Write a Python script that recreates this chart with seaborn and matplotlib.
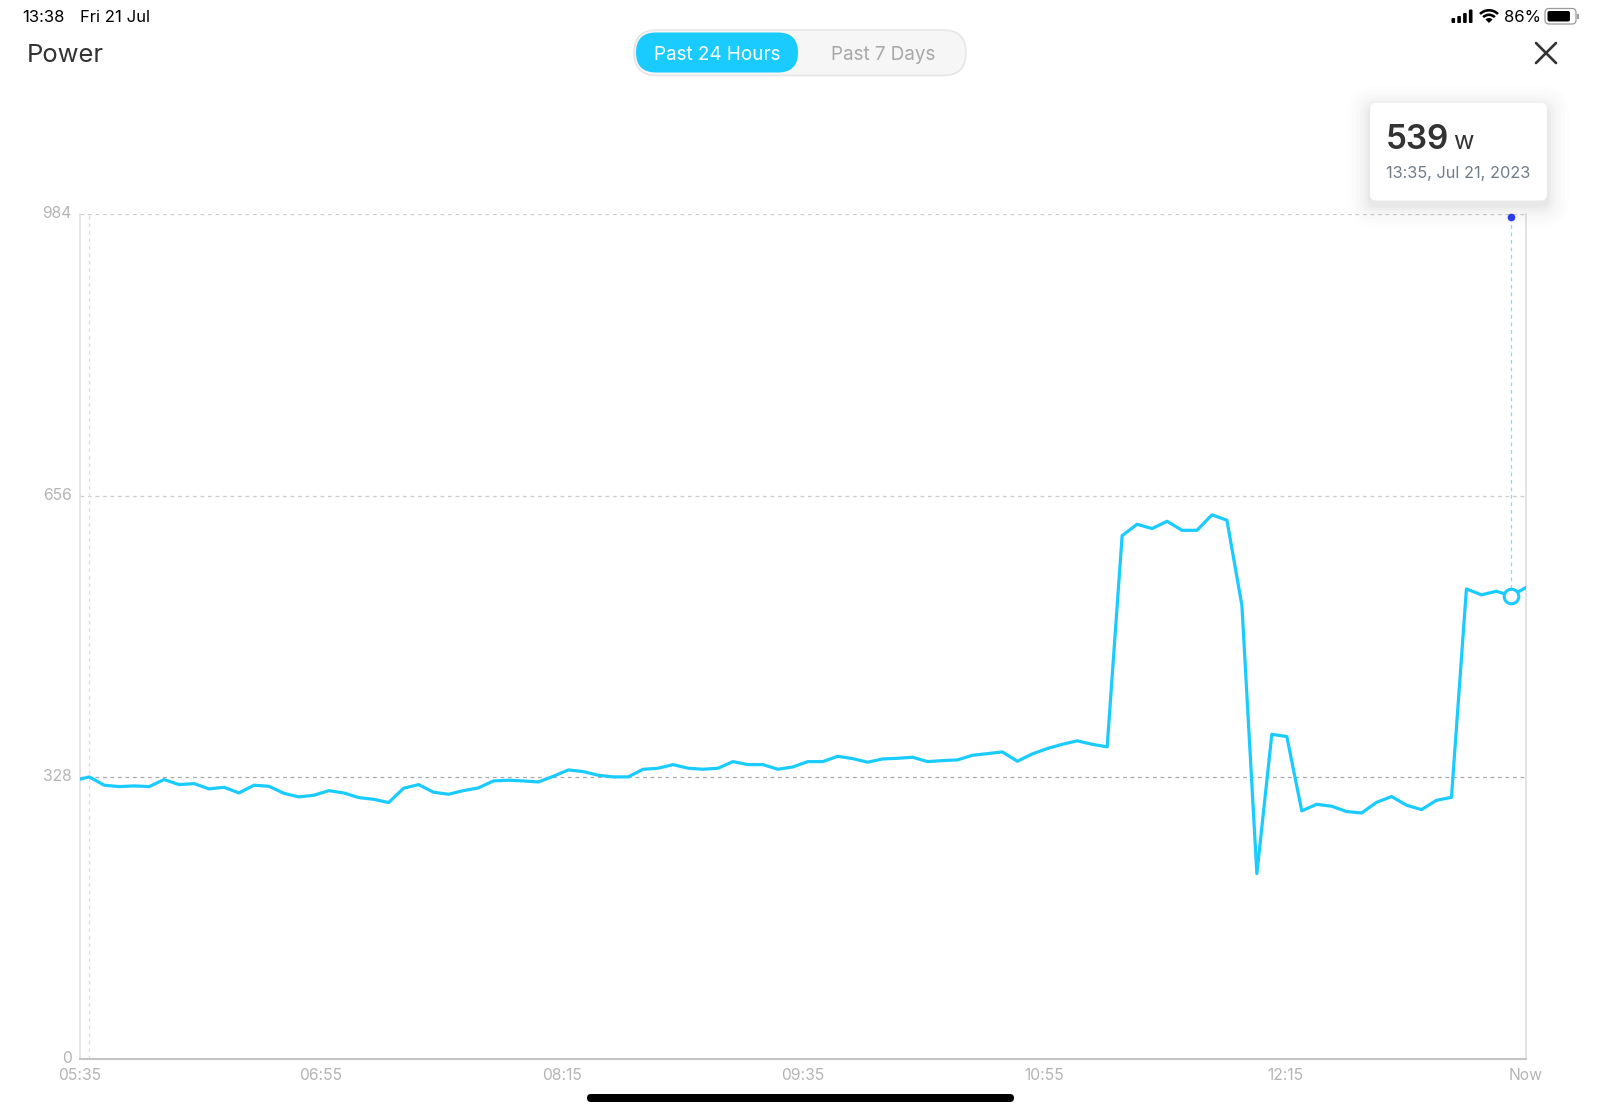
import numpy as np
import pandas as pd
import matplotlib.pyplot as plt
import seaborn as sns
from matplotlib.patches import FancyBboxPatch, Rectangle, Wedge
from matplotlib.transforms import ScaledTranslation

# readings every 5 minutes, first one just before the left edge
power_w = [
    323.9, 328.2, 318.5, 316.9, 317.7, 316.9, 325.1, 319.2, 320.4, 314.2,
    316.1, 309.5, 318.5, 317.3, 309.1, 304.9, 306.8, 312.2, 309.5, 304.1,
    302.1, 298.3, 315.0, 319.2, 310.3, 308.0, 312.2, 315.4, 323.5, 324.3,
    323.5, 322.3, 328.9, 336.3, 334.4, 330.1, 328.2, 328.2, 337.1, 338.3,
    342.5, 338.3, 337.1, 338.3, 346.0, 342.5, 342.5, 337.1, 339.8, 346.0,
    346.0, 352.2, 349.5, 345.3, 349.1, 349.9, 351.1, 346.0, 347.2, 348.0,
    353.4, 355.3, 357.3, 346.4, 355.0, 361.2, 366.2, 370.2, 366.2, 363.2,
    609.3, 622.5, 617.5, 626.0, 615.5, 615.5, 633.5, 627.2, 528.1, 215.5,
    377.8, 375.2, 288.6, 296.3, 294.0, 287.8, 286.2, 298.6, 305.3, 295.2,
    290.1, 300.9, 304.4, 547.2, 540.3, 544.5, 539.0, 549.1,
]
sample_minutes = np.arange(len(power_w)) * 5 - 1.9

x_tick_labels = ['05:35', '06:55', '08:15', '09:35', '10:55', '12:15', 'Now']
y_ticks = [0, 328, 656, 984]
selected_index = 96
window_minutes = 483

LINE = '#1acbff'
DARK = '#333333'

sns.set_theme(style='white')
plt.rcParams['font.family'] = ['Inter', 'DejaVu Sans']

fig = plt.figure(figsize=(16, 11.12), dpi=100)
ax = fig.add_axes([80 / 1600, (1112 - 1058.6) / 1112, 1446 / 1600, (1058.6 - 214) / 1112])

# full figure layer in pixels for the app chrome around the chart
ui = fig.add_axes([0, 0, 1, 1], zorder=5)
ui.set_xlim(0, 1600)
ui.set_ylim(1112, 0)
ui.axis('off')
ui.patch.set_alpha(0)

df = pd.DataFrame({'minute': sample_minutes, 'power': power_w})

for y in y_ticks[1:]:
    ax.axhline(y, color='#a8a8a8' if y == 328 else '#cccccc', lw=0.9, ls=(0, (3, 3)), zorder=1)

sel_x = sample_minutes[selected_index]
sel_y = power_w[selected_index]
ax.axvline(sample_minutes[1], color='#dddddd', lw=0.9, ls=(0, (3, 3)), zorder=1)
ax.plot([sel_x, sel_x], [980, sel_y], color='#7fdcf5', lw=0.9, ls=(0, (3, 3)), zorder=1)

sns.lineplot(data=df, x='minute', y='power', color=LINE, lw=2.3, ax=ax, zorder=3)
ax.plot([sel_x], [sel_y], 'o', ms=10.5, mfc='white', mec=LINE, mew=2.2, zorder=4)
ax.plot([sel_x], [980], 'o', ms=5.5, color='#2f3ff0', mew=0, zorder=4, clip_on=False)

ax.set_xlim(0, window_minutes)
ax.set_ylim(0, 984)
ax.set_xlabel('')
ax.set_ylabel('')
ax.set_xticks(np.linspace(0, window_minutes, len(x_tick_labels)))
ax.set_xticklabels(x_tick_labels)
ax.set_yticks(y_ticks)
ax.tick_params(axis='both', length=0, labelsize=11.3, labelcolor='#b4b4b4')
ax.tick_params(axis='x', pad=7)
ax.tick_params(axis='y', pad=6)

# y labels sit a little above their gridlines
shift = ScaledTranslation(0, 2 / 100, fig.dpi_scale_trans)
for lab in ax.get_yticklabels():
    lab.set_transform(lab.get_transform() + shift)

for side in ['left', 'right']:
    ax.spines[side].set_color('#dcdcdc')
    ax.spines[side].set_linewidth(1.1)
ax.spines['bottom'].set_color('#c4c4c4')
ax.spines['bottom'].set_linewidth(1.5)
ax.spines['top'].set_visible(False)

# status bar
ui.text(22, 17, '13:38', fontsize=12, color='black', va='center', ha='left')
ui.text(80, 17, 'Fri 21 Jul', fontsize=12, color='black', va='center', ha='left')
ui.text(1504, 17, '86%', fontsize=12, color='black', va='center', ha='left')
for i, h in enumerate([5, 7, 10, 13.5]):
    ui.add_patch(FancyBboxPatch((1451.5 + i * 5.8, 23 - h), 3.6, h, boxstyle='round,pad=0,rounding_size=1', fc='black', ec='none'))
for r, w in [(14, 2.6), (9.5, 2.6)]:
    ui.add_patch(Wedge((1489, 23), r, 225, 315, width=w, fc='black', ec='none'))
ui.add_patch(Wedge((1489, 23), 5, 225, 315, fc='black', ec='none'))
ui.add_patch(FancyBboxPatch((1545, 8.5), 31, 15.5, boxstyle='round,pad=0,rounding_size=4', fc='white', ec='#9a9a9a', lw=0.9))
ui.add_patch(FancyBboxPatch((1547.5, 11), 22.5, 10.5, boxstyle='round,pad=0,rounding_size=2', fc='black', ec='none'))
ui.add_patch(Rectangle((1577, 14), 1.5, 4.5, fc='#9a9a9a', ec='none'))

# header
ui.text(27, 55, 'Power', fontsize=18.4, color=DARK, va='center', ha='left')
ui.add_patch(FancyBboxPatch((634, 30), 332, 45.5, boxstyle='round,pad=0,rounding_size=22.7', fc='#f6f6f6', ec='#e6e6e6', lw=1.2))
ui.add_patch(FancyBboxPatch((636, 32.5), 162, 40, boxstyle='round,pad=0,rounding_size=20', fc=LINE, ec='none'))
ui.text(717, 55, 'Past 24 Hours', fontsize=13.6, color='white', va='center', ha='center')
ui.text(883, 55, 'Past 7 Days', fontsize=13.6, color='#a8a8a8', va='center', ha='center')
ui.plot([1536, 1556], [43, 63], color=DARK, lw=1.9)
ui.plot([1536, 1556], [63, 43], color=DARK, lw=1.9)

# tooltip with soft shadow
for grow, alpha in [(22, 0.006), (18, 0.008), (14, 0.01), (10, 0.012), (7, 0.014), (4, 0.016), (2, 0.018)]:
    ui.add_patch(FancyBboxPatch((1370 - grow, 103 - grow + 5), 177 + 2 * grow, 97.5 + 2 * grow,
                                boxstyle=f'round,pad=0,rounding_size={6 + grow}', fc='black', ec='none', alpha=alpha))
ui.add_patch(FancyBboxPatch((1370, 103), 177, 97.5, boxstyle='round,pad=0,rounding_size=6', fc='white', ec='none'))
ui.text(1386, 149, f'{sel_y:.0f}', fontsize=24, color=DARK, va='baseline', ha='left', fontweight='semibold')
ui.text(1453, 149, 'w', fontsize=18, color=DARK, va='baseline', ha='left')
ui.text(1386, 178, '13:35, Jul 21, 2023', fontsize=11.75, color='#727c86', va='baseline', ha='left')

# home indicator
ui.add_patch(FancyBboxPatch((587, 1094), 427, 8, boxstyle='round,pad=0,rounding_size=4', fc='black', ec='none'))

fig.savefig('out.png', dpi=100)
